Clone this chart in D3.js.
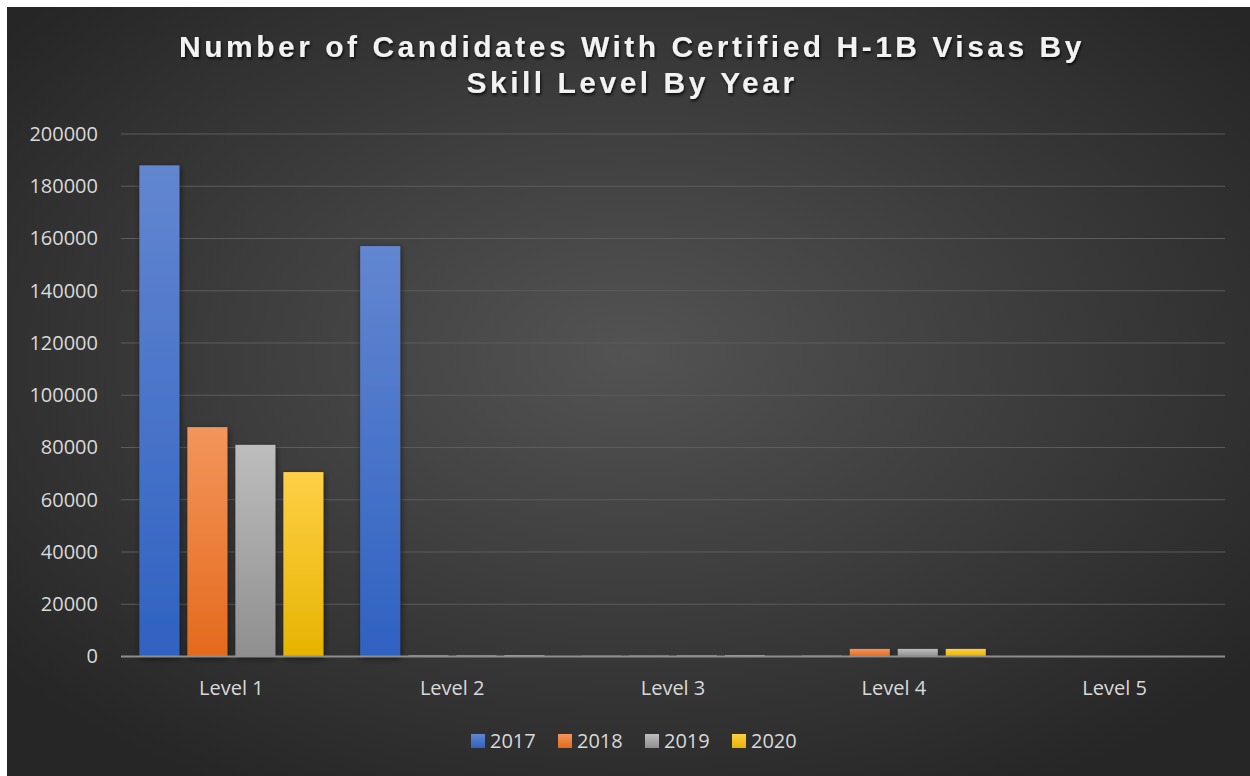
<!DOCTYPE html>
<html>
<head>
<meta charset="utf-8">
<script src="https://cdn.jsdelivr.net/npm/d3@7"></script>
<style>
  html, body { margin: 0; padding: 0; background: #ffffff; }
  svg { display: block; }
</style>
</head>
<body>
<svg id="chart" width="1250" height="776"></svg>
<script>
// Skill levels on the x axis
const categories = ["Level 1", "Level 2", "Level 3", "Level 4", "Level 5"];
// One series per year
const years = ["2017", "2018", "2019", "2020"];
const values2017 = [188000, 157100, 350, 400, 0];
const values2018 = [87800, 450, 350, 2900, 0];
const values2019 = [81000, 400, 400, 2900, 0];
const values2020 = [70600, 450, 450, 2900, 0];
const yTicks = [0, 20000, 40000, 60000, 80000, 100000, 120000, 140000, 160000, 180000, 200000];
const titleLines = ["Number of Candidates With Certified H-1B Visas By", "Skill Level By Year"];

const seriesValues = [values2017, values2018, values2019, values2020];
const palette = [
  { top: "#6386d0", bottom: "#2f62c2" },
  { top: "#f3955c", bottom: "#e46a1c" },
  { top: "#bdbdbd", bottom: "#8f8f8f" },
  { top: "#ffcf47", bottom: "#e6b400" }
];

const svg = d3.select("#chart");
const W = 1250, H = 776;
const defs = svg.append("defs");

// Chart background: dark radial glow
const bg = defs.append("radialGradient").attr("id", "bgGrad")
  .attr("cx", "50%").attr("cy", "45%").attr("r", "65%");
bg.append("stop").attr("offset", "0%").attr("stop-color", "#535353");
bg.append("stop").attr("offset", "100%").attr("stop-color", "#262626");

palette.forEach((p, i) => {
  const g = defs.append("linearGradient").attr("id", "barGrad" + i)
    .attr("x1", 0).attr("y1", 0).attr("x2", 0).attr("y2", 1);
  g.append("stop").attr("offset", "0%").attr("stop-color", p.top);
  g.append("stop").attr("offset", "100%").attr("stop-color", p.bottom);
});

const shadow = defs.append("filter").attr("id", "barShadow")
  .attr("x", "-30%").attr("y", "-10%").attr("width", "160%").attr("height", "120%");
shadow.append("feDropShadow").attr("dx", 1).attr("dy", 2).attr("stdDeviation", 3)
  .attr("flood-color", "#000").attr("flood-opacity", 0.55);

const titleShadow = defs.append("filter").attr("id", "titleShadow")
  .attr("x", "-5%").attr("y", "-20%").attr("width", "110%").attr("height", "150%");
titleShadow.append("feDropShadow").attr("dx", 1).attr("dy", 2).attr("stdDeviation", 1.5)
  .attr("flood-color", "#000").attr("flood-opacity", 0.8);

svg.append("rect").attr("x", 7).attr("y", 7).attr("width", W - 7).attr("height", H - 7)
  .attr("fill", "url(#bgGrad)");

const plot = { left: 121, right: 1225, top: 134, bottom: 656.5 };

const x0 = d3.scaleBand().domain(categories).range([plot.left, plot.right]).padding(0);
const groupPad = 18.4;
const x1 = d3.scaleBand().domain(years)
  .range([groupPad, x0.bandwidth() - groupPad]).paddingInner(8 / 48).paddingOuter(0);
const y = d3.scaleLinear().domain([0, 200000]).range([plot.bottom, plot.top]);

const labelFont = "'Open Sans', 'Noto Sans', sans-serif";

// Horizontal gridlines
svg.append("g")
  .selectAll("line")
  .data(yTicks.filter(t => t > 0))
  .join("line")
  .attr("x1", plot.left).attr("x2", plot.right)
  .attr("y1", d => y(d)).attr("y2", d => y(d))
  .attr("stroke", "#5c5c5c").attr("stroke-width", 1.2);

// Y axis labels
const yAxis = d3.axisLeft(y).tickValues(yTicks).tickSize(0).tickPadding(0).tickFormat(d3.format("d"));
const yG = svg.append("g").attr("transform", `translate(${plot.left - 23},0)`).call(yAxis);
yG.select(".domain").remove();
yG.selectAll("text")
  .attr("fill", "#d9d9d9")
  .style("font-family", labelFont)
  .style("font-size", "20px");

// Bars
const groups = svg.append("g").selectAll("g")
  .data(categories)
  .join("g")
  .attr("transform", d => `translate(${x0(d)},0)`);

groups.selectAll("rect")
  .data((c, ci) => years.map((yr, si) => ({ yr, si, v: seriesValues[si][ci] })))
  .join("rect")
  .attr("x", d => x1(d.yr))
  .attr("width", x1.bandwidth())
  .attr("y", d => y(d.v))
  .attr("height", d => Math.max(0, y(0) - y(d.v)))
  .attr("fill", d => `url(#barGrad${d.si})`)
  .attr("filter", "url(#barShadow)");

// Category axis line and labels
svg.append("line")
  .attr("x1", plot.left).attr("x2", plot.right)
  .attr("y1", plot.bottom).attr("y2", plot.bottom)
  .attr("stroke", "#8e8e8e").attr("stroke-width", 2);

const xAxis = d3.axisBottom(x0).tickSize(0).tickPadding(0);
const xG = svg.append("g").attr("transform", `translate(0,${plot.bottom + 38})`).call(xAxis);
xG.select(".domain").remove();
xG.selectAll("text")
  .attr("dy", 0)
  .attr("fill", "#d9d9d9")
  .style("font-family", labelFont)
  .style("font-size", "20px");

// Title
const title = svg.append("text")
  .attr("x", 632).attr("y", 57)
  .attr("text-anchor", "middle")
  .attr("fill", "#f2f2f2")
  .attr("filter", "url(#titleShadow)")
  .style("font-family", "'Liberation Sans', Arial, sans-serif")
  .style("font-weight", "bold")
  .style("font-size", "30px")
  .style("letter-spacing", "3.5px");
title.selectAll("tspan")
  .data(titleLines)
  .join("tspan")
  .attr("x", 632)
  .attr("dy", (d, i) => i === 0 ? 0 : 36)
  .text(d => d);

// Legend
const legendItemW = 87;
const legendStart = 471;
const legend = svg.append("g").selectAll("g")
  .data(years)
  .join("g")
  .attr("transform", (d, i) => `translate(${legendStart + i * legendItemW},741)`);
legend.append("rect")
  .attr("x", 0).attr("y", -7).attr("width", 14).attr("height", 14)
  .attr("fill", (d, i) => `url(#barGrad${i})`);
legend.append("text")
  .attr("x", 19).attr("y", 0).attr("dy", "0.36em")
  .attr("fill", "#d9d9d9")
  .style("font-family", labelFont)
  .style("font-size", "20px")
  .text(d => d);
</script>
</body>
</html>
